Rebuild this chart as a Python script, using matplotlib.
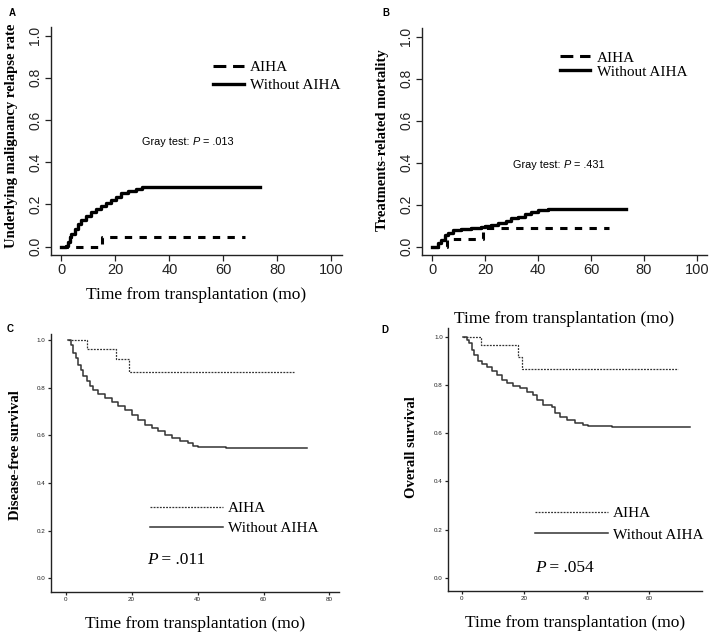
import matplotlib
matplotlib.use("Agg")
from matplotlib import pyplot as plt
from matplotlib.lines import Line2D

SERIF = ["Liberation Serif", "DejaVu Serif"]
SANS = ["Liberation Sans", "DejaVu Sans"]

# Panel A: relapse (cumulative incidence)
a_wo_t = [0, 1.8, 2.4, 3.1, 3.7, 4.9, 6.1, 7.4, 9.2, 11, 12.9, 14.7, 16.6, 18.4, 20.2, 22.1, 24.5,
          27.6, 30, 73.4]
a_wo_y = [0, 0.005, 0.02, 0.044, 0.06, 0.084, 0.108, 0.126, 0.147, 0.163, 0.179, 0.194, 0.205, 0.221,
          0.237, 0.253, 0.262, 0.273, 0.281, 0.281]
a_ai_t = [0, 15, 67.9]
a_ai_y = [0, 0.044, 0.044]

# Panel B: treatment-related mortality
b_wo_t = [0, 2.2, 3.4, 4.7, 5.9, 7.8, 11, 14.8, 18.5, 19.8, 22.3, 24.8, 28, 29.9, 32.4, 34.9, 37.4,
          40, 43.8, 73.1]
b_wo_y = [0.0, 0.016, 0.032, 0.056, 0.067, 0.08, 0.084, 0.09, 0.092, 0.099, 0.103, 0.114, 0.122,
          0.135, 0.143, 0.156, 0.165, 0.175, 0.178, 0.178]
b_ai_t = [0, 5.6, 19.2, 66.8]
b_ai_y = [0, 0.038, 0.09, 0.09]

# Panel C: disease-free survival
c_wo_t = [0.8, 1.6, 2.3, 3.0, 3.8, 4.6, 5.3, 6.4, 7.4, 8.4, 9.9, 11.9, 13.9, 15.9, 18, 20, 22, 24,
          26.1, 28.1, 30.1, 32.1, 34.6, 37.2, 38.6, 40.2, 48.7, 73.3]
c_wo_y = [1.0, 0.982, 0.947, 0.926, 0.898, 0.877, 0.849, 0.827, 0.806, 0.793, 0.774, 0.758, 0.741,
          0.726, 0.708, 0.687, 0.666, 0.645, 0.631, 0.617, 0.603, 0.589, 0.578, 0.568, 0.555, 0.55,
          0.547, 0.547]
c_ai_t = [0.8, 6.4, 15.2, 19.2, 69.1]
c_ai_y = [1.0, 0.963, 0.922, 0.868, 0.868]

# Panel D: overall survival
d_wo_t = [0.5, 1.6, 2.3, 3.2, 4.0, 5.1, 6.4, 8, 9.6, 11.2, 12.8, 14.4, 16.5, 18.6, 20.8, 22.9, 24,
          26.1, 28.8, 29.8, 31.4, 33.6, 36.2, 38.9, 40.5, 48, 73]
d_wo_y = [1.0, 0.989, 0.973, 0.945, 0.924, 0.9, 0.887, 0.873, 0.859, 0.841, 0.82, 0.807, 0.795,
          0.786, 0.772, 0.758, 0.737, 0.717, 0.707, 0.682, 0.666, 0.654, 0.643, 0.634, 0.63, 0.627,
          0.625]
d_ai_t = [0.5, 6.2, 18.1, 19.2, 69.3]
d_ai_y = [1.0, 0.966, 0.917, 0.865, 0.865]

xlabel = "Time from transplantation (mo)"
yticks = [0, 0.2, 0.4, 0.6, 0.8, 1.0]
ytick_labels = ["0.0", "0.2", "0.4", "0.6", "0.8", "1.0"]

fig = plt.figure(figsize=(7.09, 6.32), dpi=100)


def style(ax, rot, xsize, ysize, tlen):
    ax.spines["top"].set_visible(False)
    ax.spines["right"].set_visible(False)
    for s in ("left", "bottom"):
        ax.spines[s].set_linewidth(1.0)
        ax.spines[s].set_color("#222222")
    ax.tick_params(direction="out", length=tlen, width=0.9, pad=2, colors="#222222")
    ax.tick_params(axis="x", labelsize=xsize)
    ax.tick_params(axis="y", labelsize=ysize)
    for lab in ax.get_xticklabels() + ax.get_yticklabels():
        lab.set_family(SANS)
    if rot:
        for lab in ax.get_yticklabels():
            lab.set_rotation(90)
            lab.set_va("center")


def p_text(ax, x, y, pieces, family, size):
    # chain text pieces so the P can be italic in the right font
    t = None
    for s, italic in pieces:
        st = "italic" if italic else "normal"
        if t is None:
            t = ax.text(x, y, s, family=family, fontsize=size, style=st, va="baseline")
        else:
            t = ax.annotate(s, xy=(1, 0), xycoords=t, family=family, fontsize=size, style=st,
                            va="bottom")


def top_panel(rect, wo_t, wo_y, ai_t, ai_y, ylab, ylab_xy, xpad, gray, gray_xy, leg_xy, lsp):
    ax = fig.add_axes(rect)
    ax.plot(ai_t, ai_y, drawstyle="steps-post", color="black", lw=2.2, ls=(0, (2.4, 2.4)))
    ax.plot(wo_t, wo_y, drawstyle="steps-post", color="black", lw=2.4)
    ax.set_xlim(-4, 104)
    ax.set_ylim(-0.04, 1.04)
    ax.set_xticks([0, 20, 40, 60, 80, 100])
    ax.set_yticks(yticks)
    ax.set_yticklabels(ytick_labels)
    style(ax, True, 10.5, 10, 4)
    ax.set_xlabel(xlabel, family=SERIF, fontsize=12.5, labelpad=xpad)
    ax.set_ylabel(ylab, family=SERIF, fontsize=10.5, fontweight="bold")
    ax.yaxis.set_label_coords(*ylab_xy)
    p_text(ax, gray_xy[0], gray_xy[1], [("Gray test: ", False), ("P", True), (" = " + gray, False)],
           SANS, 7.8)
    handles = [Line2D([], [], color="black", lw=2.2, ls=(0, (4.2, 2.2))),
               Line2D([], [], color="black", lw=2.4)]
    ax.legend(handles, ["AIHA", "Without AIHA"], loc="upper left", bbox_to_anchor=leg_xy, frameon=False,
              prop={"family": SERIF, "size": 11}, handlelength=2.0, handletextpad=0.4, labelspacing=lsp,
              borderpad=0, borderaxespad=0)
    return ax


def bottom_panel(rect, xlim, ylim, xt, wo_t, wo_y, ai_t, ai_y, ylab, ylab_xy, pval, leg_xy, lsp, p_xy):
    ax = fig.add_axes(rect)
    ax.plot(ai_t, ai_y, drawstyle="steps-post", color="#333333", lw=0.9, ls=(0, (1.5, 1.0)), label="AIHA")
    ax.plot(wo_t, wo_y, drawstyle="steps-post", color="#333333", lw=1.1, label="Without AIHA")
    ax.set_xlim(*xlim)
    ax.set_ylim(*ylim)
    ax.set_xticks(xt)
    ax.set_yticks(yticks)
    ax.set_yticklabels(ytick_labels)
    style(ax, False, 4.5, 4.5, 2)
    ax.set_xlabel(xlabel, family=SERIF, fontsize=12.5, labelpad=10)
    ax.set_ylabel(ylab, family=SERIF, fontsize=10.5, fontweight="bold")
    ax.yaxis.set_label_coords(*ylab_xy)
    ax.legend(loc="upper left", bbox_to_anchor=leg_xy, frameon=False, prop={"family": SERIF, "size": 11},
              handlelength=4.8, handletextpad=0.3, labelspacing=lsp, borderpad=0, borderaxespad=0)
    p_text(ax, p_xy[0], p_xy[1], [("P", True), (" = " + pval, False)], SERIF, 12.5)
    return ax


top_panel([0.0715, 0.5965, 0.411, 0.3605], a_wo_t, a_wo_y, a_ai_t, a_ai_y,
          "Underlying malignancy relapse rate", (-0.112, 0.525), 7, ".013", (30, 0.48), (0.557, 0.855), 0.3)
top_panel([0.5948, 0.5964, 0.4028, 0.3588], b_wo_t, b_wo_y, b_ai_t, b_ai_y,
          "Treatments-related mortality", (-0.1155, 0.505), 24, ".431", (30.5, 0.375), (0.484, 0.9), 0.02)
bottom_panel([0.0715, 0.0638, 0.4071, 0.4077], (-4.55, 83.0), (-0.0564, 1.0265), [0, 20, 40, 60, 80],
             c_wo_t, c_wo_y, c_ai_t, c_ai_y, "Disease-free survival", (-0.1, 0.53), ".011",
             (0.344, 0.35), 0.42, (24.6, 0.06))
bottom_panel([0.6323, 0.0654, 0.3574, 0.4151], (-4.29, 76.76), (-0.0539, 1.0357), [0, 20, 40, 60],
             d_wo_t, d_wo_y, d_ai_t, d_ai_y, "Overall survival", (-0.118, 0.548), ".054",
             (0.342, 0.32), 0.5, (23.4, 0.025))

for lab, x, y in [("A", 0.012, 0.987), ("B", 0.540, 0.987), ("C", 0.010, 0.487), ("D", 0.538, 0.485)]:
    fig.text(x, y, lab, family=SANS, fontsize=7, fontweight="bold", va="top")

fig.savefig("out.png", dpi=100)
